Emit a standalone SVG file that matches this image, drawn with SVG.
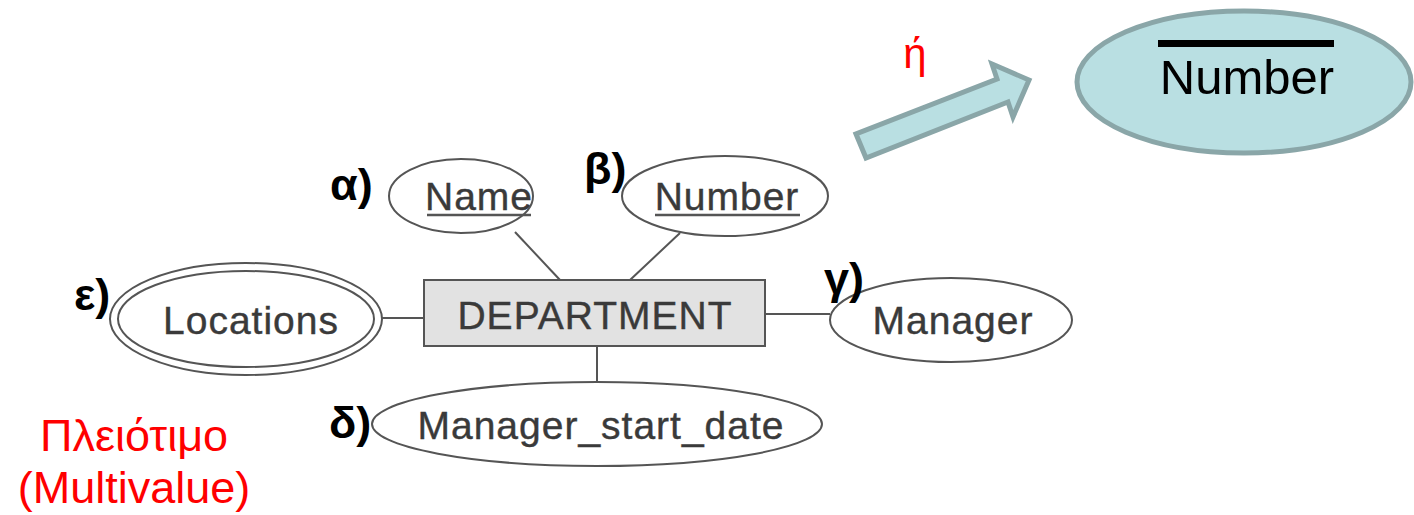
<svg xmlns="http://www.w3.org/2000/svg" width="1414" height="515" viewBox="0 0 1414 515">
<style>
.er{font-family:"Liberation Sans",Arial,sans-serif;font-size:39px;fill:#3a3a3a;letter-spacing:1px;stroke:#3a3a3a;stroke-width:0.4}
.att{fill:#fff;stroke:#555;stroke-width:2}
.lbl{font-family:"Liberation Sans",Arial,sans-serif;font-size:45px;font-weight:bold;fill:#000}
.red{font-family:"Liberation Sans",Arial,sans-serif;fill:#ff0000}
.conn{stroke:#555;stroke-width:2;fill:none}
</style>
<rect width="1414" height="515" fill="#fff"/>
<g id="connectors">
<line class="conn" x1="515" y1="232" x2="560" y2="280"/>
<line class="conn" x1="680" y1="233" x2="630" y2="280"/>
<line class="conn" x1="765" y1="314" x2="830" y2="314"/>
<line class="conn" x1="382" y1="318" x2="424" y2="318"/>
<line class="conn" x1="597" y1="346" x2="597" y2="382"/>
</g>
<g id="department">
<rect x="424" y="280" width="341" height="66" fill="#e2e2e2" stroke="#555" stroke-width="2"/>
<text class="er" x="595" y="329" text-anchor="middle">DEPARTMENT</text>
</g>
<g id="name">
<ellipse class="att" cx="461" cy="196" rx="72" ry="37"/>
<text class="er" x="479" y="210" text-anchor="middle">Name</text>
<line x1="427" y1="215" x2="531" y2="215" stroke="#555" stroke-width="2.5"/>
</g>
<g id="number">
<ellipse class="att" cx="725" cy="196" rx="103" ry="40"/>
<text class="er" x="727" y="210" text-anchor="middle">Number</text>
<line x1="655" y1="215" x2="800" y2="215" stroke="#555" stroke-width="2.5"/>
</g>
<g id="locations">
<ellipse class="att" cx="246" cy="319" rx="136" ry="56"/>
<ellipse class="att" cx="246" cy="319" rx="128" ry="48"/>
<text class="er" x="251" y="334" text-anchor="middle">Locations</text>
</g>
<g id="manager">
<ellipse class="att" cx="951" cy="320" rx="121" ry="42"/>
<text class="er" x="953" y="334" text-anchor="middle">Manager</text>
</g>
<g id="manager_start_date">
<ellipse class="att" cx="597" cy="424" rx="225" ry="42"/>
<text class="er" x="601" y="439" text-anchor="middle">Manager_start_date</text>
</g>
<g id="labels">
<text class="lbl" x="330" y="200">α)</text>
<text class="lbl" x="584" y="184">β)</text>
<text class="lbl" x="824" y="294">γ)</text>
<text class="lbl" x="329" y="438">δ)</text>
<text class="lbl" x="74" y="310">ε)</text>
</g>
<g id="multivalue">
<text class="red" x="134" y="451" font-size="45" text-anchor="middle">Πλειότιμο</text>
<text class="red" x="134" y="503" font-size="45" text-anchor="middle">(Multivalue)</text>
</g>
<g id="arrow">
<polygon points="856,134 866,158 1008,102 1013,117 1029,80 992,64 997,79" fill="#b9dfe2" stroke="#8aa6a8" stroke-width="5" stroke-linejoin="miter"/>
<text class="red" x="915" y="68" font-size="42" text-anchor="middle">ή</text>
</g>
<g id="number_alt">
<ellipse cx="1244" cy="82" rx="167" ry="71" fill="#b9dfe2" stroke="#8aa6a8" stroke-width="5"/>
<rect x="1158" y="40" width="176" height="7" fill="#000"/>
<text x="1247" y="94" font-family="'Liberation Sans',Arial,sans-serif" font-size="49" fill="#000" text-anchor="middle">Number</text>
</g>
</svg>
